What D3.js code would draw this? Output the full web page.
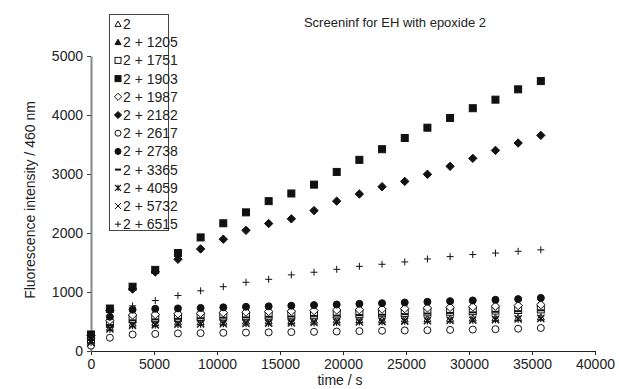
<!DOCTYPE html>
<meta charset="utf-8">
<style>
body { margin: 0; background: #fff; }
text { font-family: Arial, "Liberation Sans", sans-serif; fill: #222; }
</style>
<svg width="619" height="389"></svg>
<script src="https://d3js.org/d3.v7.min.js"></script>
<script>

var title = "Screeninf for EH with epoxide 2",
    xTitle = "time / s",
    yTitle = "Fluorescence intensity / 460 nm";

var labels = ["2", "2 + 1205", "2 + 1751", "2 + 1903", "2 + 1987", "2 + 2182",
              "2 + 2617", "2 + 2738", "2 + 3365", "2 + 4059", "2 + 5732", "2 + 6515"];

var markers = ["triangleOpen", "triangleFilled", "squareOpen", "squareFilled", "diamondOpen", "diamondFilled",
               "circleOpen", "circleFilled", "dash", "star", "cross", "plus"];

var times = [0, 1500, 3300, 5100, 6900, 8700, 10500, 12300, 14100, 15900, 17700,
             19500, 21300, 23100, 24900, 26700, 28500, 30300, 32100, 33900, 35700];

var s2    = [170, 400, 470, 480, 490, 495, 500, 505, 510, 515, 520, 525, 530, 535, 540, 545, 550, 555, 560, 565, 575];
var s1205 = [250, 700, 650, 665, 675, 685, 690, 700, 705, 710, 720, 725, 735, 740, 750, 760, 770, 780, 790, 800, 815];
var s1751 = [200, 460, 540, 555, 565, 575, 585, 590, 600, 605, 615, 620, 630, 640, 645, 655, 665, 675, 685, 695, 705];
var s1903 = [280, 720, 1090, 1375, 1660, 1925, 2165, 2350, 2540, 2670, 2820, 3035, 3240, 3420, 3610, 3785, 3950, 4115, 4260, 4435, 4575];
var s1987 = [220, 520, 610, 620, 630, 640, 650, 660, 670, 675, 685, 695, 700, 710, 720, 730, 740, 750, 760, 770, 785];
var s2182 = [260, 690, 1050, 1340, 1555, 1730, 1895, 2045, 2160, 2240, 2380, 2540, 2660, 2785, 2875, 2995, 3130, 3265, 3400, 3525, 3655];
var s2617 = [90, 225, 280, 290, 298, 303, 308, 312, 316, 320, 325, 330, 337, 343, 348, 353, 358, 363, 370, 378, 390];
var s2738 = [270, 580, 700, 715, 722, 730, 740, 750, 758, 768, 778, 788, 800, 810, 822, 833, 845, 857, 868, 880, 900];
var s3365 = [190, 440, 520, 535, 545, 555, 565, 570, 580, 585, 595, 600, 610, 615, 625, 635, 645, 655, 665, 675, 690];
var s4059 = [150, 370, 430, 440, 450, 455, 460, 465, 470, 475, 480, 485, 490, 495, 505, 510, 515, 520, 530, 540, 550];
var s5732 = [140, 390, 450, 460, 470, 475, 480, 485, 490, 495, 500, 505, 510, 515, 520, 525, 530, 540, 545, 550, 560];
var s6515 = [200, 680, 765, 855, 940, 1020, 1090, 1165, 1215, 1290, 1335, 1385, 1435, 1470, 1510, 1560, 1600, 1635, 1660, 1690, 1715];

var series = [s2, s1205, s1751, s1903, s1987, s2182, s2617, s2738, s3365, s4059, s5732, s6515];

var xTicks = [0, 5000, 10000, 15000, 20000, 25000, 30000, 35000, 40000],
    yTicks = [0, 1000, 2000, 3000, 4000, 5000];

var svg = d3.select("svg");

var x = d3.scaleLinear().domain([0, 40000]).range([91, 595]),
    y = d3.scaleLinear().domain([0, 5000]).range([351, 56]);

// axes
var xAxis = svg.append("g")
    .attr("transform", "translate(0,351)")
    .call(d3.axisBottom(x).tickValues(xTicks).tickSize(4).tickSizeOuter(0).tickPadding(4).tickFormat(d3.format("d")));

var yAxis = svg.append("g")
    .attr("transform", "translate(91,0)")
    .call(d3.axisLeft(y).tickValues(yTicks).tickSize(4).tickSizeOuter(0).tickPadding(4).tickFormat(d3.format("d")));

xAxis.selectAll("text").style("font-size", "14px").attr("fill", "#222");
yAxis.selectAll("text").style("font-size", "14px").attr("fill", "#222");
xAxis.selectAll("path,line").attr("stroke", "#222");
yAxis.select("path").attr("stroke", "#888").attr("stroke-width", 2);
yAxis.selectAll("line").attr("stroke", "#444");

// titles
svg.append("text").attr("x", 395).attr("y", 27).attr("text-anchor", "middle")
    .style("font-size", "13px").text(title);
svg.append("text").attr("x", 340).attr("y", 385).attr("text-anchor", "middle")
    .style("font-size", "14px").text(xTitle);
svg.append("text").attr("transform", "translate(35,200) rotate(-90)").attr("text-anchor", "middle")
    .style("font-size", "14px").text(yTitle);

// marker drawing
function drawMarker(g, type, cx, cy, r) {
  var ink = "#111";
  switch (type) {
    case "triangleOpen":
    case "triangleFilled":
      g.append("path")
          .attr("d", "M" + cx + "," + (cy - r) + "L" + (cx + r) + "," + (cy + r * 0.8) + "L" + (cx - r) + "," + (cy + r * 0.8) + "Z")
          .attr("fill", type === "triangleFilled" ? ink : "#fff").attr("stroke", ink).attr("stroke-width", 1);
      break;
    case "squareOpen":
    case "squareFilled":
      g.append("rect").attr("x", cx - r).attr("y", cy - r).attr("width", 2 * r).attr("height", 2 * r)
          .attr("fill", type === "squareFilled" ? ink : "#fff").attr("stroke", ink).attr("stroke-width", 1);
      break;
    case "diamondOpen":
    case "diamondFilled":
      var d = r * 1.2;
      g.append("path")
          .attr("d", "M" + cx + "," + (cy - d) + "L" + (cx + d) + "," + cy + "L" + cx + "," + (cy + d) + "L" + (cx - d) + "," + cy + "Z")
          .attr("fill", type === "diamondFilled" ? ink : "#fff").attr("stroke", ink).attr("stroke-width", 1);
      break;
    case "circleOpen":
    case "circleFilled":
      g.append("circle").attr("cx", cx).attr("cy", cy).attr("r", r)
          .attr("fill", type === "circleFilled" ? ink : "#fff").attr("stroke", ink).attr("stroke-width", 1);
      break;
    case "dash":
      g.append("line").attr("x1", cx - r).attr("x2", cx + r).attr("y1", cy).attr("y2", cy)
          .attr("stroke", ink).attr("stroke-width", 2);
      break;
    case "star":
      g.append("path")
          .attr("d", "M" + (cx - r) + "," + (cy - r) + "L" + (cx + r) + "," + (cy + r) +
                     "M" + (cx - r) + "," + (cy + r) + "L" + (cx + r) + "," + (cy - r) +
                     "M" + cx + "," + (cy - r) + "L" + cx + "," + (cy + r))
          .attr("fill", "none").attr("stroke", ink).attr("stroke-width", 1.2);
      break;
    case "cross":
      g.append("path")
          .attr("d", "M" + (cx - r) + "," + (cy - r) + "L" + (cx + r) + "," + (cy + r) +
                     "M" + (cx - r) + "," + (cy + r) + "L" + (cx + r) + "," + (cy - r))
          .attr("fill", "none").attr("stroke", ink).attr("stroke-width", 1);
      break;
    case "plus":
      g.append("path")
          .attr("d", "M" + (cx - r) + "," + cy + "L" + (cx + r) + "," + cy +
                     "M" + cx + "," + (cy - r) + "L" + cx + "," + (cy + r))
          .attr("fill", "none").attr("stroke", ink).attr("stroke-width", 1);
      break;
  }
}

// points
var plot = svg.append("g");
series.forEach(function(values, k) {
  var g = plot.append("g");
  values.forEach(function(v, i) {
    drawMarker(g, markers[k], x(times[i]), y(v), 3.5);
  });
});

// legend
var legend = svg.append("g");
legend.append("rect").attr("x", 109.5).attr("y", 14.5).attr("width", 59).attr("height", 216)
    .attr("fill", "#fff").attr("stroke", "#444").attr("stroke-width", 1);

labels.forEach(function(label, k) {
  var cy = 24 + k * 18.2;
  drawMarker(legend, markers[k], 118, cy, 3);
  legend.append("text").attr("x", 123).attr("y", cy + 5)
      .style("font-size", "14px").text(label);
});

</script>
